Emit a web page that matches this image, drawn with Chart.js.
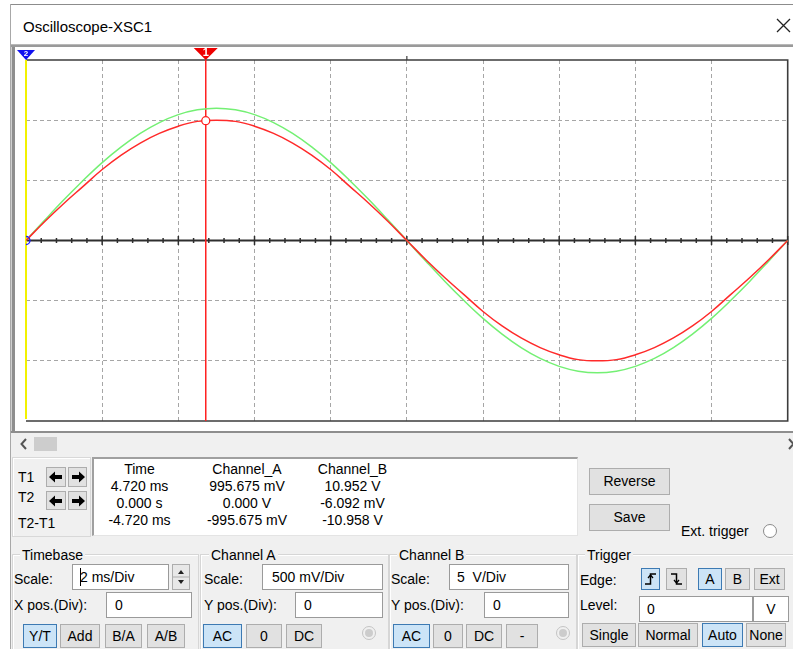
<!DOCTYPE html>
<html><head><meta charset="utf-8">
<script src="https://cdn.jsdelivr.net/npm/chart.js@4/dist/chart.umd.min.js"></script>
<style>
body{margin:0;width:793px;height:649px;overflow:hidden;background:#fff;font-family:"Liberation Sans",Arial,sans-serif;font-size:14px;color:#000;position:relative}
.a{position:absolute;white-space:nowrap}
#plot{position:absolute;left:14px;top:47px}
</style></head>
<body>
<canvas id="plot" width="779" height="386"></canvas>
<script>
// ---- data (time in ms, Channel A in V, Channel B in V) ----
const timeMs = [0,0.5,1,1.5,2,2.5,3,3.5,4,4.5,5,5.5,6,6.5,7,7.5,8,8.5,9,9.5,10,10.5,11,11.5,12,12.5,13,13.5,14,14.5,15,15.5,16,16.5,17,17.5,18,18.5,19,19.5,20];
const channelA = [0,0.16,0.31,0.45,0.59,0.71,0.81,0.89,0.95,0.99,1.00,0.99,0.95,0.89,0.81,0.71,0.59,0.45,0.31,0.16,0.00,-0.16,-0.31,-0.45,-0.59,-0.71,-0.81,-0.89,-0.95,-0.99,-1.00,-0.99,-0.95,-0.89,-0.81,-0.71,-0.59,-0.45,-0.31,-0.16,0.00];
const channelB = [0,1.72,3.40,4.99,6.47,7.78,8.90,9.80,10.46,10.86,11.00,10.86,10.46,9.80,8.90,7.78,6.47,4.99,3.40,1.72,0.00,-1.72,-3.40,-4.99,-6.47,-7.78,-8.90,-9.80,-10.46,-10.86,-11.00,-10.86,-10.46,-9.80,-8.90,-7.78,-6.47,-4.99,-3.40,-1.72,0.00];
const cursorTime = [4.72, 0.0];          // T1, T2 in ms
const cursorA = [0.995675, 0.0];         // V
const cursorB = [10.952, -0.006092];     // V
const readoutHeaders = ["Time","Channel_A","Channel_B"];
const readoutT1 = ["4.720 ms","995.675 mV","10.952 V"];
const readoutT2 = ["0.000 s","0.000 V","-6.092 mV"];
const readoutDiff = ["-4.720 ms","-995.675 mV","-10.958 V"];

// ---- UI helpers ----
function box(x,y,w,h,css){const d=document.createElement('div');d.style.cssText=`position:absolute;left:${x}px;top:${y}px;width:${w}px;height:${h}px;box-sizing:border-box;${css||''}`;document.body.appendChild(d);return d;}
function txt(x,cy,s,css){const d=document.createElement('div');d.className='a';d.style.cssText=`left:${x}px;top:${cy-9}px;line-height:18px;${css||''}`;d.textContent=s;document.body.appendChild(d);return d;}
function ctxt(cx,cy,s,css){return txt(cx-100,cy,s,'width:200px;text-align:center;'+(css||''));}
function btn(x,y,w,h,s,sel){const d=box(x,y,w,h,`background:${sel?'#cce4f7':'#e1e1e1'};border:1px solid ${sel?'#3d7ab3':'#adadad'};text-align:center;line-height:${h-2}px;`);if(typeof s==='string')d.textContent=s;else d.innerHTML=s.html;return d;}
function inp(x,y,w,h,s,pad){const d=box(x,y,w,h,`background:#fff;border:1px solid #9a9a9a;padding-left:${pad}px;line-height:${h-2}px;white-space:pre`);d.textContent=s;return d;}
function svg(x,y,w,h,inner){const d=box(x,y,w,h,'');d.innerHTML=`<svg width="${w}" height="${h}" xmlns="http://www.w3.org/2000/svg">${inner}</svg>`;return d;}
function radio(cx,cy,disabled){const d=box(cx-7,cy-7,14,14,`border-radius:50%;border:1px solid ${disabled?'#c4c4c4':'#8a8a8a'};background:${disabled?'#f0f0f0':'#fff'}`);if(disabled){box(cx-4,cy-4,8,8,'border-radius:50%;background:#cccccc');}}

// ---- window chrome ----
box(10,4,783,1,'background:#8c8c8c');
box(10,4,1,645,'background:#a8a8a8');
txt(23,27,'Oscilloscope-XSC1','font-size:15px;');
svg(776,18,15,15,'<path d="M1 1 L14 14 M14 1 L1 14" stroke="#222" stroke-width="1.3"/>');
box(11,44,782,1,'background:#b8b8b8');
box(11,45,782,2,'background:#9a9a9a');
// plot panel frame
box(11,47,1,386,'background:#cfcfcf');
box(12,47,3,386,'background:#8e8e8e');
box(11,431,782,2,'background:#8e8e8e');
// lower panel background
box(11,433,782,216,'background:#f0f0f0');
// scrollbar
svg(19,437,10,14,'<path d="M7 2 L2.5 7 L7 12" fill="none" stroke="#555" stroke-width="2"/>');
box(34,437,23,14,'background:#cdcdcd');
svg(787,437,6,14,'<path d="M2 2 L6.5 7 L2 12" fill="none" stroke="#555" stroke-width="2"/>');

// cursor panel
box(12,457,79,80,'border:1px solid #d8d8d8;box-shadow:inset 1px 1px 0 #fff');
txt(18,477,'T1');txt(18,497,'T2');txt(18,523,'T2-T1');
const la='<svg width="16" height="14" style="margin-top:2px"><path d="M1 7 L7 1.5 L7 5 L14 5 L14 9 L7 9 L7 12.5 Z" fill="#000"/></svg>';
const ra='<svg width="16" height="14" style="margin-top:2px"><path d="M15 7 L9 1.5 L9 5 L2 5 L2 9 L9 9 L9 12.5 Z" fill="#000"/></svg>';
btn(46,467,20,20,{html:la});btn(68,467,19,20,{html:ra});
btn(46,491,20,19,{html:la});btn(68,491,19,19,{html:ra});
box(92,457,486,79,'background:#fff;border-top:2px solid #a0a0a0;border-left:2px solid #a0a0a0;border-right:1px solid #e4e4e4;border-bottom:1px solid #e4e4e4');
const colX=[139.5,247,352.5];
[readoutHeaders,readoutT1,readoutT2,readoutDiff].forEach((row,r)=>{row.forEach((s,c)=>ctxt(colX[c],[469,486,503,520][r],s));});
btn(589,468,81,27,'Reverse');
btn(589,504,81,27,'Save');
txt(681,531,'Ext. trigger');
radio(770,531,false);

// group boxes
[[12,187,'Timebase',22],[200,189,'Channel A',211],[389,188,'Channel B',399],[577,230,'Trigger',587]].forEach(g=>{
  box(g[0],554,g[1],120,'border:1px solid #d6d6d6;box-shadow:inset 1px 1px 0 #fff');
  txt(g[3]-2,555,g[2],'background:#f0f0f0;padding:0 2px');
});
// Timebase
txt(14,579,'Scale:');
inp(72,564,97,26,'2 ms/Div',7);
box(80,568,1,18,'background:#000');
box(172,564,18,26,'background:#e8e8e8;border:1px solid #adadad');
svg(172,564,18,26,'<path d="M6 10 L9 6 L12 10 Z M6 16 L9 20 L12 16 Z" fill="#222"/><path d="M1 13 H17" stroke="#adadad"/>');
txt(14,605,'X pos.(Div):');
inp(106,592,86,26,'0',8);
btn(23,624,34,24,'Y/T',true);btn(60,624,40,24,'Add');btn(105,624,37,24,'B/A');btn(147,624,38,24,'A/B');
// Channel A
txt(204,579,'Scale:');
inp(262,564,121,26,'500 mV/Div',9);
txt(204,605,'Y pos.(Div):');
inp(295,592,88,26,'0',8);
btn(203,624,39,24,'AC',true);btn(246,624,36,24,'0');btn(286,624,36,24,'DC');
radio(369,633,true);
// Channel B
txt(391,579,'Scale:');
inp(449,564,120,26,'5  V/Div',7);
txt(391,605,'Y pos.(Div):');
inp(484,592,85,26,'0',8);
btn(393,624,37,24,'AC',true);btn(433,624,30,24,'0');btn(466,624,36,24,'DC');btn(506,624,32,24,'-');
radio(563,633,true);
// Trigger
txt(580,580,'Edge:');
btn(641,568,19,22,{html:'<svg width="17" height="20"><path d="M3 15 H8.5 V5 H14" fill="none" stroke="#000" stroke-width="1.5"/><path d="M6 9 L8.5 6 L11 9" fill="none" stroke="#000" stroke-width="1.3"/></svg>'},true);
btn(666,568,21,22,{html:'<svg width="19" height="20"><path d="M4 5 H9.5 V15 H15" fill="none" stroke="#000" stroke-width="1.5"/><path d="M7 11 L9.5 14 L12 11" fill="none" stroke="#000" stroke-width="1.3"/></svg>'});
btn(698,568,24,22,'A',true);btn(725,568,25,22,'B');btn(754,568,31,22,'Ext');
txt(580,605,'Level:');
inp(639,596,114,26,'0',7);
box(753,596,36,26,'background:#fff;border:1px solid #9a9a9a;text-align:center;line-height:24px').textContent='V';
btn(582,623,54,24,'Single');btn(638,623,60,24,'Normal');btn(702,623,41,24,'Auto',true);btn(746,623,40,24,'None');

// ---- chart ----
const scopePlugin={
  id:'scope',
  beforeDatasetsDraw(chart){
    const {ctx,chartArea:a,scales:{x,yA}}=chart;
    ctx.save();
    ctx.strokeStyle='#3c3c3c';ctx.lineWidth=1.6;
    ctx.beginPath();ctx.moveTo(a.left,a.top);ctx.lineTo(a.right,a.top);ctx.lineTo(a.right,a.bottom);ctx.lineTo(a.left,a.bottom);ctx.stroke();
    const xc=x.getPixelForValue(10);
    ctx.lineWidth=1.2;ctx.beginPath();ctx.moveTo(xc,a.top-4);ctx.lineTo(xc,a.top);ctx.stroke();
    const y0=yA.getPixelForValue(0);
    ctx.strokeStyle='#2e2e2e';ctx.lineWidth=2;
    ctx.beginPath();ctx.moveTo(a.left,y0);ctx.lineTo(a.right,y0);ctx.stroke();
    ctx.lineWidth=1.5;
    for(let k=0;k<=50;k++){
      const px=x.getPixelForValue(k*0.4);const h=(k%5===0)?4.5:2.5;
      ctx.beginPath();ctx.moveTo(px,y0-h);ctx.lineTo(px,y0+h);ctx.stroke();
    }
    const p2=x.getPixelForValue(cursorTime[1]);
    ctx.strokeStyle='#f2f200';ctx.lineWidth=2;
    ctx.beginPath();ctx.moveTo(p2,a.top);ctx.lineTo(p2,a.bottom-2);ctx.stroke();
    const p1=x.getPixelForValue(cursorTime[0]);
    ctx.strokeStyle='#ff2020';ctx.lineWidth=1.5;
    ctx.beginPath();ctx.moveTo(p1,a.top);ctx.lineTo(p1,a.bottom);ctx.stroke();
    ctx.restore();
  },
  afterDraw(chart){
    const {ctx,chartArea:a,scales:{x}}=chart;
    ctx.save();
    const p1=x.getPixelForValue(cursorTime[0]);
    ctx.fillStyle='#ee0000';
    ctx.beginPath();ctx.moveTo(p1-12,a.top-12);ctx.lineTo(p1+12,a.top-12);ctx.lineTo(p1,a.top);ctx.closePath();ctx.fill();
    ctx.fillStyle='#fff';ctx.font='bold 11px "Liberation Sans",Arial';ctx.textAlign='center';ctx.textBaseline='middle';
    ctx.fillText('1',p1,a.top-7.5);
    const p2=x.getPixelForValue(cursorTime[1]);
    ctx.fillStyle='#1010f0';
    ctx.beginPath();ctx.moveTo(p2-9,a.top-10);ctx.lineTo(p2+9,a.top-10);ctx.lineTo(p2,a.top);ctx.closePath();ctx.fill();
    ctx.fillStyle='#fff';ctx.font='bold 8px "Liberation Sans",Arial';
    ctx.fillText('2',p2,a.top-6);
    ctx.restore();
  }
};
const gridColor=(edge)=>(c)=>{const v=c.tick&&c.tick.value;return edge.includes(v)?'rgba(0,0,0,0)':'#a6a6a6';};
new Chart(document.getElementById('plot'),{
  type:'line',
  data:{datasets:[
    {label:'T1 marker',data:[{x:cursorTime[0],y:cursorA[0]}],yAxisID:'yA',showLine:false,pointRadius:4,pointBorderColor:'#ff2020',pointBackgroundColor:'#ffffff',pointBorderWidth:1.3},
    {label:'T2 marker',data:[{x:cursorTime[1],y:cursorA[1]}],yAxisID:'yA',showLine:false,pointRadius:4,pointBorderColor:'#2020ff',pointBackgroundColor:'rgba(0,0,0,0)',pointBorderWidth:1.3},
    {label:'Channel_A',data:timeMs.map((t,i)=>({x:t,y:channelA[i]})),yAxisID:'yA',borderColor:'#ff2a2a',borderWidth:1.5,pointRadius:0,tension:0.4,fill:false},
    {label:'Channel_B',data:timeMs.map((t,i)=>({x:t,y:channelB[i]})),yAxisID:'yB',borderColor:'#74f074',borderWidth:1.5,pointRadius:0,tension:0.4,fill:false}
  ]},
  options:{
    responsive:false,animation:false,events:[],
    layout:{padding:{left:12,right:4,top:13,bottom:12}},
    plugins:{legend:{display:false},tooltip:{enabled:false}},
    scales:{
      x:{type:'linear',min:0,max:20,ticks:{display:false,stepSize:2},grid:{color:gridColor([0,20]),lineWidth:1,drawTicks:false},border:{display:false,dash:[4,3]}},
      yA:{type:'linear',position:'left',min:-1.5,max:1.5,ticks:{display:false,stepSize:0.5},grid:{color:gridColor([-1.5,0,1.5]),lineWidth:1,drawTicks:false},border:{display:false,dash:[4,3]}},
      yB:{type:'linear',display:false,min:-15,max:15}
    }
  },
  plugins:[scopePlugin]
});
</script>
</body></html>
